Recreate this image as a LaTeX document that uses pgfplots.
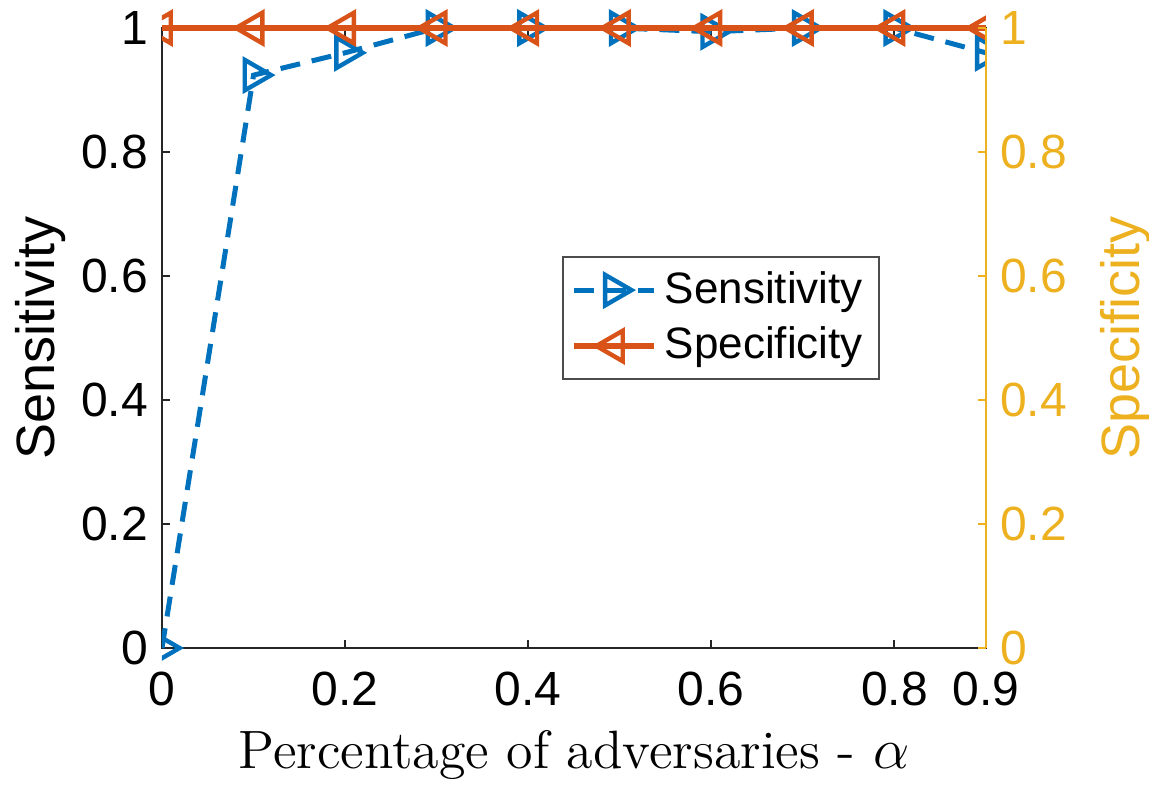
\documentclass[border=0pt]{standalone}
\usepackage{pgfplots}
\pgfplotsset{compat=1.18}
\usepackage{fontspec}
\newfontfamily\hv{Liberation Sans}
\definecolor{mblue}{HTML}{0072BD}
\definecolor{morange}{HTML}{D95319}
\definecolor{myellow}{HTML}{EDB120}
\definecolor{maxis}{HTML}{262626}

\pgfplotsset{
  frame/.style={
    at={(0,0)}, anchor=south west,
    scale only axis, width=206pt, height=155pt,
    xmin=0, xmax=0.9, ymin=0, ymax=1,
    xtick={0,0.2,0.4,0.6,0.8,0.9},
    ytick={0,0.2,0.4,0.6,0.8,1},
    tick align=inside, major tick length=2pt,
    /pgf/number format/assume math mode=true,
    ticklabel style={font=\hv\fontsize{12}{14}\selectfont},
    xticklabel style={yshift=-2.5pt},
  },
}

\begin{document}
\begin{tikzpicture}
% left scale, x axis and labels
\begin{axis}[frame,
  ytick pos=left,
  axis line style={maxis, line width=0.5pt},
  tick style={maxis, line width=0.5pt},
  xlabel={Percentage of adversaries - $\alpha$},
  xlabel style={font=\fontsize{13.5}{16}\selectfont, at={(axis description cs:0.5,-0.1726)}, anchor=center},
  ylabel={Sensitivity},
  ylabel style={font=\hv\fontsize{13.5}{16}\selectfont, at={(axis description cs:-0.148,0.5)}, anchor=center},
]
\end{axis}

% data, with room above and below the frame so markers at 0 and 1 stay whole
\begin{axis}[
  at={(0,-15.5pt)}, anchor=south west,
  scale only axis, width=206pt, height=186pt,
  xmin=0, xmax=0.9, ymin=-0.1, ymax=1.1,
  hide axis, clip marker paths=true,
  legend style={at={(rel axis cs:0.4854,0.610)}, anchor=north west,
    draw=black!70, line width=0.5pt, fill=white,
    font=\hv\fontsize{11}{13}\selectfont,
    inner xsep=2pt, inner ysep=1.5pt, row sep=0.5pt},
  legend cell align=left,
  legend image code/.code={\draw[mark repeat=2,mark phase=2,#1] plot coordinates {(0pt,0pt)(10pt,0pt)(20pt,0pt)};},
]
\addplot[mblue, line width=1.25pt, dash pattern=on 5pt off 3pt,
  mark=triangle, mark size=4.4pt,
  mark options={solid, rotate=-90, line width=1.1pt}]
  coordinates {
  (0,0) (0.1,0.924) (0.2,0.960) (0.3,1) (0.4,1) (0.5,1)
  (0.6,0.994) (0.7,1) (0.8,1) (0.9,0.96)
  };
\addlegendentry{Sensitivity}
\addplot[morange, line width=1.5pt,
  mark=triangle, mark size=4.4pt,
  mark options={solid, rotate=90, line width=1.1pt}]
  coordinates {
  (0,1) (0.1,1) (0.2,1) (0.3,1) (0.4,1) (0.5,1)
  (0.6,1) (0.7,1) (0.8,1) (0.9,1)
  };
\addlegendentry{Specificity}
\end{axis}

% right scale
\begin{axis}[frame,
  axis y line*=right, axis x line=none,
  y axis line style={myellow, line width=0.5pt},
  ytick style={myellow, line width=0.5pt},
  yticklabel style={myellow},
  ylabel={Specificity},
  ylabel style={myellow, font=\hv\fontsize{13.5}{16}\selectfont, at={(axis description cs:1.169,0.5)}, anchor=center},
]
\end{axis}

\pgfresetboundingbox
\path[use as bounding box] (-40.5pt,-34.5pt) rectangle (246.75pt,162pt);
\end{tikzpicture}
\end{document}
